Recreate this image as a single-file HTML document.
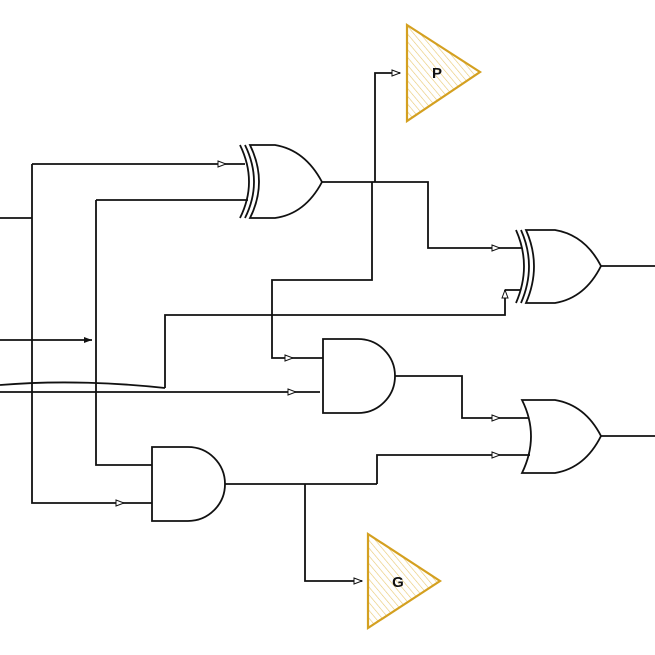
<!DOCTYPE html>
<html><head><meta charset="utf-8"><style>body{margin:0;background:#fff}svg{display:block}</style></head><body>
<svg width="655" height="655" viewBox="0 0 655 655" xmlns="http://www.w3.org/2000/svg">
<defs>
<marker id="a" markerWidth="10" markerHeight="8" refX="9" refY="4" orient="auto" markerUnits="userSpaceOnUse"><path d="M1,1 L9,4 L1,7 Z" fill="#fff" stroke="#111" stroke-width="1"/></marker>
<marker id="f" markerWidth="10" markerHeight="8" refX="9" refY="4" orient="auto" markerUnits="userSpaceOnUse"><path d="M1,1 L9,4 L1,7 Z" fill="#111"/></marker>
<pattern id="h" width="5" height="5" patternUnits="userSpaceOnUse" patternTransform="rotate(-40)"><line x1="0" y1="0" x2="0" y2="5" stroke="#e8c870" stroke-width="1.2"/></pattern>
</defs>
<g fill="none" stroke="#111" stroke-width="1.8">
<path d="M0,218 H32"/>
<path d="M32,164 V503 H124" marker-end="url(#a)"/>
<path d="M32,164 H226" marker-end="url(#a)"/>
<path d="M226,164 H245"/>
<path d="M96,200 H248"/>
<path d="M96,200 V465 H152"/>
<path d="M0,340 H92" marker-end="url(#f)"/>
<path d="M0,385 C60,380 120,383 165,388"/>
<path d="M0,392 H296" marker-end="url(#a)"/>
<path d="M296,392 H320"/>
<path d="M165,388 V315 H505 V290" marker-end="url(#a)"/>
<path d="M505,290 H520"/>
<path d="M124,503 H152"/>
<path d="M240,145 Q258,182 240,218"/>
<path d="M245,145 Q263,182 245,218"/>
<path d="M250,145 H275 Q305,150 322,182 Q305,214 275,218 H250 Q268,182 250,145 Z"/>
<path d="M322,182 H428 V248 H500" marker-end="url(#a)"/>
<path d="M500,248 H522"/>
<path d="M375,182 V73 H400" marker-end="url(#a)"/>
<path d="M372,182 V280 H272 V358 H293" marker-end="url(#a)"/>
<path d="M293,358 H323"/>
<path d="M516,230 Q532,266 516,303"/>
<path d="M521,230 Q537,266 521,303"/>
<path d="M526,230 H555 Q585,235 601,266 Q585,298 555,303 H526 Q542,266 526,230 Z"/>
<path d="M601,266 H655"/>
<path d="M323,339 H358 A37,37 0 0 1 358,413 H323 Z"/>
<path d="M395,376 H462 V418 H500" marker-end="url(#a)"/>
<path d="M500,418 H528"/>
<path d="M522,400 H555 Q585,405 601,436 Q585,468 555,473 H522 Q540,436 522,400 Z"/>
<path d="M601,436 H655"/>
<path d="M377,484 V455 H500" marker-end="url(#a)"/>
<path d="M500,455 H530"/>
<path d="M152,447 H188 A37,37 0 0 1 188,521 H152 Z"/>
<path d="M225,484 H377"/>
<path d="M305,484 V581 H362" marker-end="url(#a)"/>
</g>
<path d="M407,25 L480,72 L407,121 Z" fill="url(#h)" stroke="#d4a020" stroke-width="2.2"/>
<path d="M368,534 L440,581 L368,628 Z" fill="url(#h)" stroke="#d4a020" stroke-width="2.2"/>
<text x="437" y="78" font-family="Liberation Sans, sans-serif" font-weight="bold" font-size="15" text-anchor="middle" fill="#111">P</text>
<text x="398" y="587" font-family="Liberation Sans, sans-serif" font-weight="bold" font-size="15" text-anchor="middle" fill="#111">G</text>
</svg>
</body></html>
